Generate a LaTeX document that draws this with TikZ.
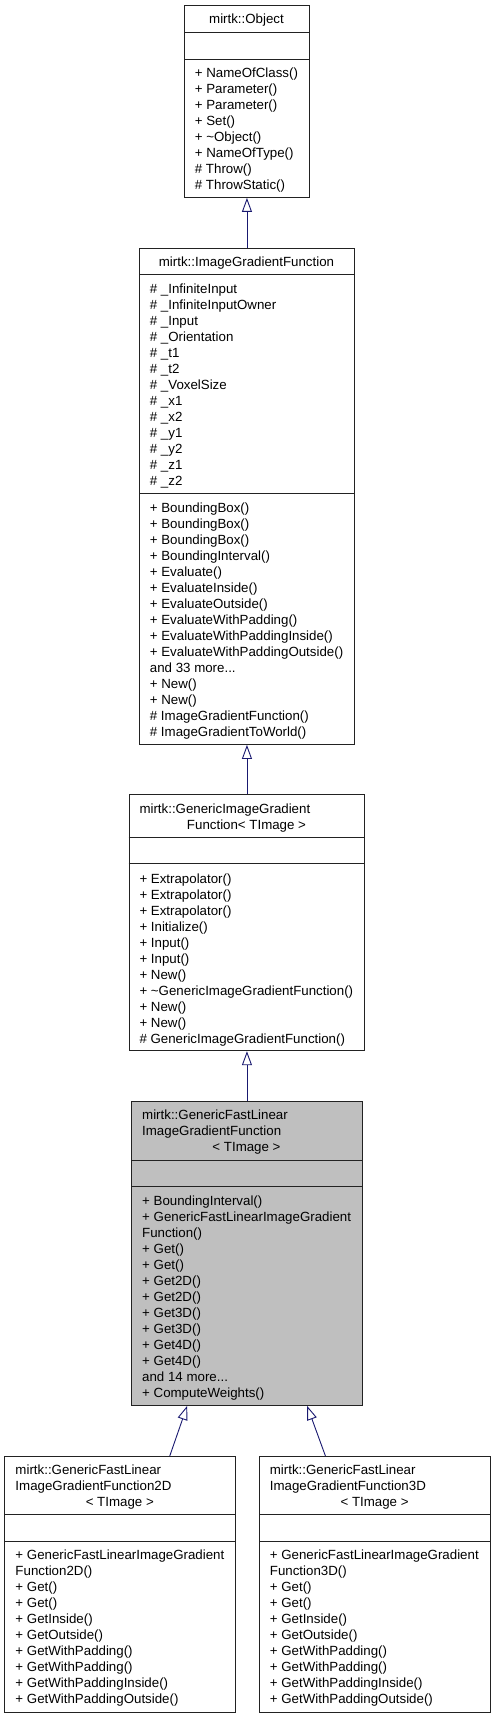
\documentclass[tikz,border=0pt]{standalone}
\usepackage{fontspec}
\setmainfont{Liberation Sans}
\usetikzlibrary{arrows.meta}
\definecolor{midnight}{HTML}{191970}
\definecolor{grayfill}{HTML}{BFBFBF}
\definecolor{edge}{HTML}{222222}
\newcommand\dfs{\fontsize{13.3}{16}\selectfont}
\newcommand\tdots{...}
\newcommand\members[3]{\foreach \t [count=\i from 0] in {#3} {\node[txt] at (#1,{#2+16*\i}) {\t};}}
\tikzset{
  cls/.style={draw=edge, line width=0.9pt, fill=white, inner sep=0pt, anchor=north west},
  sepline/.style={draw=edge, line width=0.9pt},
  txt/.style={anchor=base west, inner sep=0pt, font=\dfs},
  ctxt/.style={anchor=base, inner sep=0pt, font=\dfs},
  inh/.style={draw=midnight, line width=0.9pt, -{Triangle[length=14pt,width=10pt,fill=white]}},
}
\begin{document}
\begin{tikzpicture}[x=1pt,y=-1pt]
\useasboundingbox (0,0) rectangle (495,1720);

% mirtk::Object
\node[cls, minimum width=125pt, minimum height=192pt] (obj) at (184,5) {};
\draw[sepline] (obj.west |- 0,32.3) -- (obj.east |- 0,32.3);
\draw[sepline] (obj.west |- 0,59) -- (obj.east |- 0,59);
\node[ctxt] (objt) at (246.5,23.5) {mirtk::Object};
\members{194.7}{77.5}{+ NameOfClass(), + Parameter(), + Parameter(), + Set(), + \textasciitilde Object(), + NameOfType(), \# Throw(), \# ThrowStatic()}

% mirtk::ImageGradientFunction
\node[cls, minimum width=215pt, minimum height=496.3pt] (igf) at (139,247.7) {};
\draw[sepline] (igf.west |- 0,274.3) -- (igf.east |- 0,274.3);
\draw[sepline] (igf.west |- 0,493.3) -- (igf.east |- 0,493.3);
\node[ctxt] (igft) at (246.5,266.8) {mirtk::ImageGradientFunction};
\members{149.7}{293.8}{\# \_InfiniteInput, \# \_InfiniteInputOwner, \# \_Input, \# \_Orientation, \# \_t1, \# \_t2, \# \_VoxelSize, \# \_x1, \# \_x2, \# \_y1, \# \_y2, \# \_z1, \# \_z2}
\members{149.7}{512.2}{+ BoundingBox(), + BoundingBox(), + BoundingBox(), + BoundingInterval(), + Evaluate(), + EvaluateInside(), + EvaluateOutside(), + EvaluateWithPadding(), + EvaluateWithPaddingInside(), + EvaluateWithPaddingOutside(), and 33 more\tdots, + New(), + New(), \# ImageGradientFunction(), \# ImageGradientToWorld()}

% mirtk::GenericImageGradientFunction< TImage >
\node[cls, minimum width=235.6pt, minimum height=256pt] (gigf) at (128.7,794.3) {};
\draw[sepline] (gigf.west |- 0,837.3) -- (gigf.east |- 0,837.3);
\draw[sepline] (gigf.west |- 0,863.7) -- (gigf.east |- 0,863.7);
\node[txt] (gigft1) at (139.3,813.8) {mirtk::GenericImageGradient};
\node[ctxt] (gigft2) at (246.5,829.8) {Function< TImage >};
\members{139.3}{883.2}{+ Extrapolator(), + Extrapolator(), + Extrapolator(), + Initialize(), + Input(), + Input(), + New(), + \textasciitilde GenericImageGradientFunction(), + New(), + New(), \# GenericImageGradientFunction()}

% mirtk::GenericFastLinearImageGradientFunction< TImage >
\node[cls, fill=grayfill, minimum width=231pt, minimum height=304pt] (gfl) at (131,1101) {};
\draw[sepline] (gfl.west |- 0,1160) -- (gfl.east |- 0,1160);
\draw[sepline] (gfl.west |- 0,1186.7) -- (gfl.east |- 0,1186.7);
\node[txt] (gflt1) at (142,1119.8) {mirtk::GenericFastLinear};
\node[txt] (gflt2) at (142,1135.8) {ImageGradientFunction};
\node[ctxt] (gflt3) at (246.5,1151.8) {< TImage >};
\members{142}{1205.8}{+ BoundingInterval(), + GenericFastLinearImageGradient, Function(), + Get(), + Get(), + Get2D(), + Get2D(), + Get3D(), + Get3D(), + Get4D(), + Get4D(), and 14 more\tdots, + ComputeWeights()}

% 2D
\node[cls, minimum width=231pt, minimum height=256pt] (d2) at (4.3,1456) {};
\draw[sepline] (d2.west |- 0,1514.3) -- (d2.east |- 0,1514.3);
\draw[sepline] (d2.west |- 0,1541.3) -- (d2.east |- 0,1541.3);
\node[txt] (d2t1) at (15.3,1474.8) {mirtk::GenericFastLinear};
\node[txt] (d2t2) at (15.3,1490.8) {ImageGradientFunction2D};
\node[ctxt] (d2t3) at (119.8,1506.8) {< TImage >};
\members{15.3}{1559.8}{+ GenericFastLinearImageGradient, Function2D(), + Get(), + Get(), + GetInside(), + GetOutside(), + GetWithPadding(), + GetWithPadding(), + GetWithPaddingInside(), + GetWithPaddingOutside()}

% 3D
\node[cls, minimum width=230.7pt, minimum height=256pt] (d3) at (259.3,1456) {};
\draw[sepline] (d3.west |- 0,1514.3) -- (d3.east |- 0,1514.3);
\draw[sepline] (d3.west |- 0,1541.3) -- (d3.east |- 0,1541.3);
\node[txt] (d3t1) at (269.7,1474.8) {mirtk::GenericFastLinear};
\node[txt] (d3t2) at (269.7,1490.8) {ImageGradientFunction3D};
\node[ctxt] (d3t3) at (374.6,1506.8) {< TImage >};
\members{269.7}{1559.8}{+ GenericFastLinearImageGradient, Function3D(), + Get(), + Get(), + GetInside(), + GetOutside(), + GetWithPadding(), + GetWithPadding(), + GetWithPaddingInside(), + GetWithPaddingOutside()}

% inheritance
\draw[inh] (igf.north) -- (obj.south);
\draw[inh] (gigf.north) -- (igf.south);
\draw[inh] (gfl.north) -- (gigf.south);
\draw[inh] ([xshift=49.5pt]d2.north) -- ([xshift=-59.8pt]gfl.south);
\draw[inh] ([xshift=-49.65pt]d3.north) -- ([xshift=60.2pt]gfl.south);
\end{tikzpicture}
\end{document}
